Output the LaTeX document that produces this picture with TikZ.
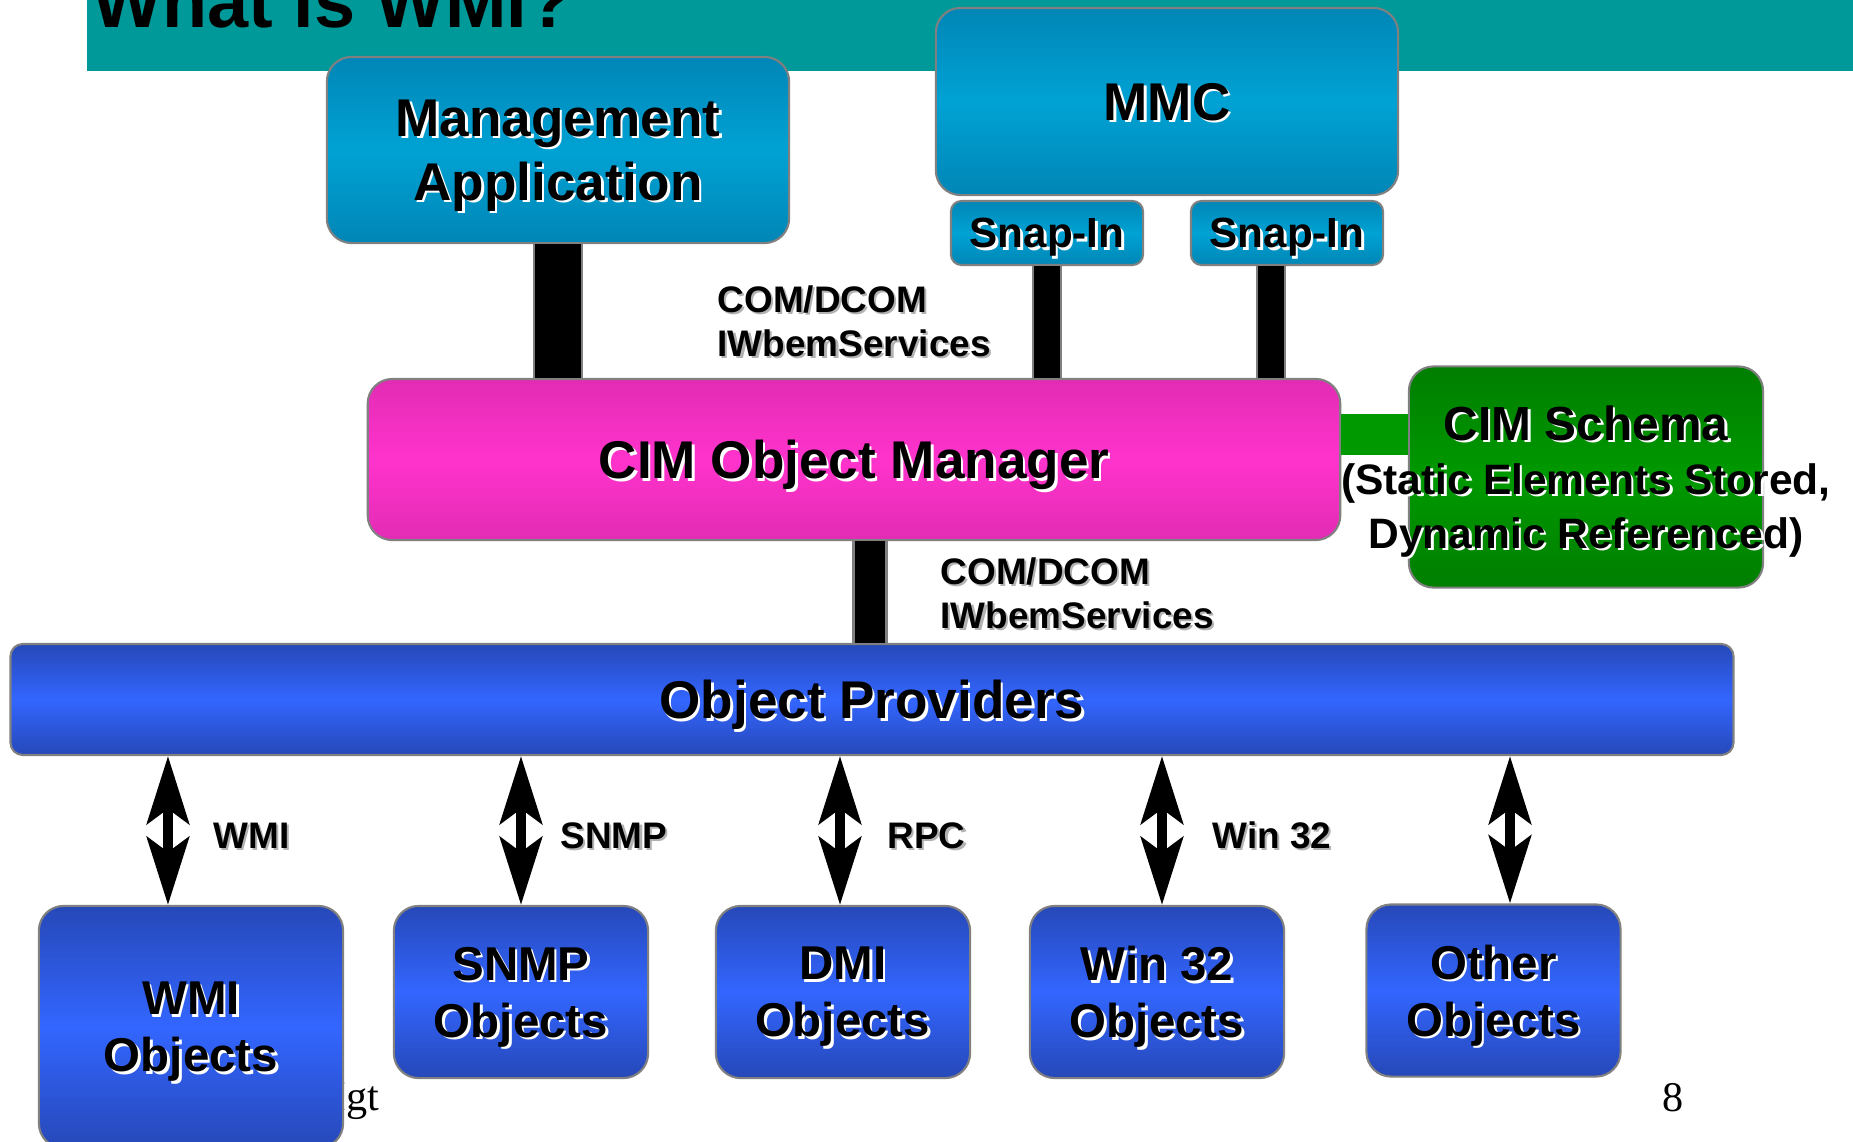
\documentclass[tikz,border=0pt]{standalone}
\usepackage{fontspec}
\setmainfont{Liberation Sans}
\newfontfamily\footserif{Liberation Serif}
\usetikzlibrary{arrows.meta}

\definecolor{bandteal}{RGB}{0,153,153}
\definecolor{appdark}{RGB}{0,134,182}
\definecolor{applight}{RGB}{0,162,212}
\definecolor{cimdark}{RGB}{226,44,180}
\definecolor{cimlight}{RGB}{255,51,204}
\definecolor{schemadark}{RGB}{0,126,0}
\definecolor{schemalight}{RGB}{0,153,0}
\definecolor{provdark}{RGB}{38,72,184}
\definecolor{provlight}{RGB}{51,102,255}
\definecolor{edgegray}{RGB}{128,128,128}

\newcommand\shd[1]{\rlap{\kern0.7pt\raisebox{-0.7pt}{\color{white}#1}}#1}
\newcommand\gshd[1]{\rlap{\kern0.6pt\raisebox{-0.6pt}{\color{black!30}#1}}#1}
\newcommand\wideline[1]{\makebox[0pt]{\shd{#1}}}

\begin{document}
\begin{tikzpicture}[x=0.01cm, y=-0.01cm,
  box/.style = {shape=rectangle, rounded corners=7pt,
    draw=edgegray, line width=0.6pt, align=center,
    inner sep=0pt, text depth=0pt,
    font=\bfseries\fontsize{15.1}{18.2}\selectfont},
  appbox/.style = {box, top color=appdark, bottom color=appdark,
    middle color=applight},
  snapbox/.style = {appbox, rounded corners=3pt,
    minimum width=1.92cm, minimum height=0.64cm,
    font=\bfseries\fontsize{12}{14}\selectfont},
  cimbox/.style = {box, top color=cimdark, bottom color=cimdark,
    middle color=cimlight},
  schemabox/.style = {box, top color=schemadark, bottom color=schemadark,
    middle color=schemalight,
    font=\bfseries\fontsize{12.1}{15.4}\selectfont},
  provbox/.style = {box, top color=provdark, bottom color=provdark,
    middle color=provlight},
  objbox/.style = {provbox, minimum width=2.54cm, minimum height=1.72cm,
    font=\bfseries\fontsize{13.5}{16.2}\selectfont},
  lbl/.style = {inner sep=0pt, align=left,
    font=\bfseries\fontsize{10.5}{12.5}\selectfont},
  combar/.style = {draw=edgegray, line width=0.6pt,
    double=black, double distance=#1},
  schemalink/.style = {draw=schemalight, line width=11.7pt},
  biarrow/.style = {>={Stealth[length=19.3pt, width=12pt, inset=4.3pt]},
    <->, line width=2.8pt}]

  \useasboundingbox (0,0) rectangle (1853,1142);
  \fill[bandteal] (87,0) rectangle (1853,71);
  \node[anchor=base west, inner sep=0pt,
    font=\bfseries\fontsize{21}{25}\selectfont] (title) at (92,27) {What is WMI?};
  \node[anchor=base east, inner sep=0pt,
    font=\footserif\fontsize{12}{14}\selectfont] (footer) at (380,1110) {Mgt};
  \node[anchor=base, inner sep=0pt,
    font=\footserif\fontsize{12}{14}\selectfont] (pagenum) at (1673,1111) {8};

  \node[appbox, minimum width=4.62cm, minimum height=1.86cm] (mgt) at (558,150)
    {\shd{Management}\\\shd{Application}};
  \node[appbox, minimum width=4.62cm, minimum height=1.87cm] (mmc) at (1167,101.5)
    {\shd{MMC}};
  \node[snapbox] (snapa) at (1047,233) {\shd{Snap-In}};
  \node[snapbox] (snapb) at (1287,233) {\shd{Snap-In}};
  \node[cimbox, minimum width=9.72cm, minimum height=1.61cm] (cim) at (854,459.5)
    {\shd{CIM Object Manager}};
  \node[schemabox, minimum width=3.54cm, minimum height=2.21cm] (schema) at (1586,477)
    {{\fontsize{13.6}{15.4}\selectfont\shd{CIM Schema}}\\
     \wideline{(Static Elements Stored,}\\\wideline{Dynamic Referenced)}};
  \node[provbox, rounded corners=3.5pt, minimum width=17.22cm,
    minimum height=1.11cm] (prov) at (872,699.5) {\shd{Object Providers}};

  \node[objbox, minimum width=3.04cm, minimum height=2.42cm] (wmiobj) at (191,1027)
    {\shd{WMI}\\\shd{Objects}};
  \node[objbox] (snmpobj) at (521,992) {\shd{SNMP}\\\shd{Objects}};
  \node[objbox] (dmiobj) at (843,992) {\shd{DMI}\\\shd{Objects}};
  \node[objbox] (winobj) at (1157,992) {\shd{Win 32}\\\shd{Objects}};
  \node[objbox] (otherobj) at (1493.5,990.5) {\shd{Other}\\\shd{Objects}};

  \draw[combar=13pt] (mgt.south) -- (mgt.south |- cim.north);
  \draw[combar=7.6pt] (snapa.south) -- (snapa.south |- cim.north);
  \draw[combar=7.6pt] ([xshift=-0.16cm]snapb.south)
    -- ([xshift=-0.16cm]snapb.south |- cim.north);
  \draw[combar=8.8pt] ([xshift=0.16cm]cim.south)
    -- ([xshift=0.16cm]cim.south |- prov.north);
  \draw[schemalink] ([yshift=0.25cm]cim.east)
    -- ([yshift=0.25cm]cim.east -| schema.west);

  \node[lbl, anchor=north west] (comtop) at (717,285)
    {\gshd{COM/DCOM}\\\gshd{IWbemServices}};
  \node[lbl, anchor=north west] (combot) at (940,557)
    {\gshd{COM/DCOM}\\\gshd{IWbemServices}};

  \foreach \obj/\dx in {wmiobj/-0.23cm, snmpobj/0cm, dmiobj/-0.03cm,
      winobj/0.05cm, otherobj/0.165cm}
    \draw[biarrow] ([xshift=\dx]\obj.north) -- ([xshift=\dx]\obj.north |- prov.south);

  \node[lbl, anchor=base west] (wmilbl) at (213,848) {\gshd{WMI}};
  \node[lbl, anchor=base west] (snmplbl) at (560,848) {\gshd{SNMP}};
  \node[lbl, anchor=base west] (rpclbl) at (887,848) {\gshd{RPC}};
  \node[lbl, anchor=base west] (winlbl) at (1212,848) {\gshd{Win 32}};
\end{tikzpicture}
\end{document}
